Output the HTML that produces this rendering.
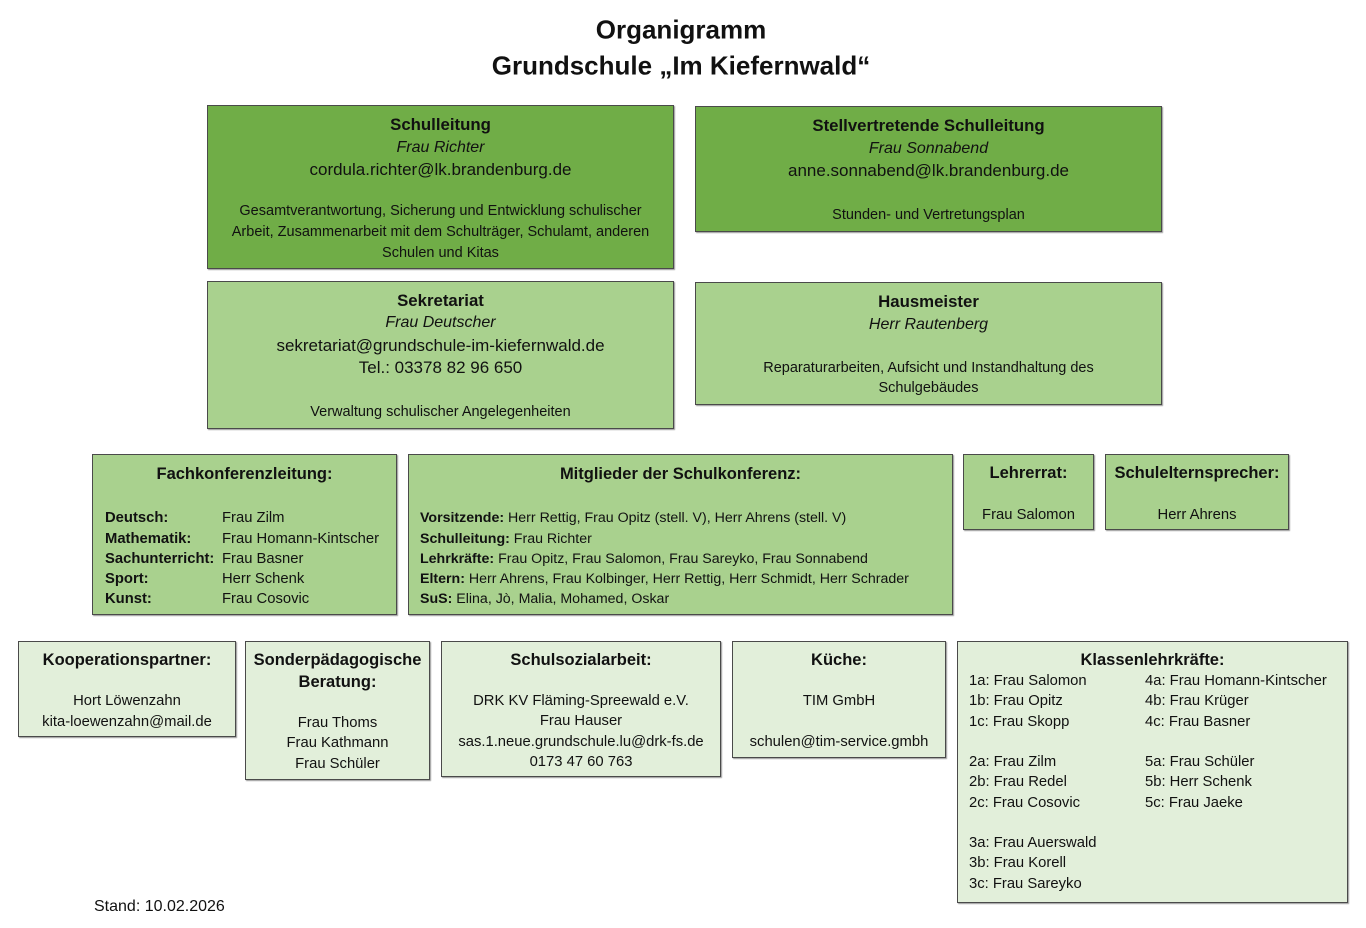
<!DOCTYPE html>
<html><head><meta charset="utf-8"><style>
body{margin:0;width:1366px;height:928px;background:#fff;position:relative;font-family:"Liberation Sans",sans-serif;color:#111;overflow:hidden}
.b{position:absolute;border:1px solid #4a4a4a;box-shadow:1px 1px 1px #999;box-sizing:border-box}
.d{background:#70ad47}.m{background:#a9d18e}.l{background:#e2efda}
.t{position:absolute;white-space:nowrap;transform:translateY(-45%);font-size:14.8px;line-height:18px}
.c{text-align:center}
.h{font-weight:bold;font-size:16.8px}
.h2{font-weight:bold;font-size:16.5px}
.i{font-style:italic;font-size:16px}
.e{font-size:17px}
.s{font-size:14.5px}
.m2{font-size:14.2px}
.tt{transform:translateY(-55%)}
</style></head><body>
<div class="t c tt" style="left:0;width:1362px;top:31px;font-size:26px;font-weight:bold;line-height:32px">Organigramm</div>
<div class="t c tt" style="left:0;width:1362px;top:67px;font-size:26px;font-weight:bold;line-height:32px">Grundschule „Im Kiefernwald“</div>

<div class="b d" style="left:207px;top:105px;width:467px;height:164px"></div>
<div class="t c h" style="left:207px;width:467px;top:124px">Schulleitung</div>
<div class="t c i" style="left:207px;width:467px;top:147px">Frau Richter</div>
<div class="t c e" style="left:207px;width:467px;top:169px">cordula.richter@lk.brandenburg.de</div>
<div class="t c s" style="left:207px;width:467px;top:210px">Gesamtverantwortung, Sicherung und Entwicklung schulischer</div>
<div class="t c s" style="left:207px;width:467px;top:231px">Arbeit, Zusammenarbeit mit dem Schulträger, Schulamt, anderen</div>
<div class="t c s" style="left:207px;width:467px;top:252px">Schulen und Kitas</div>

<div class="b d" style="left:695px;top:106px;width:467px;height:126px"></div>
<div class="t c h" style="left:695px;width:467px;top:125px">Stellvertretende Schulleitung</div>
<div class="t c i" style="left:695px;width:467px;top:148px">Frau Sonnabend</div>
<div class="t c e" style="left:695px;width:467px;top:170px">anne.sonnabend@lk.brandenburg.de</div>
<div class="t c s" style="left:695px;width:467px;top:214px">Stunden- und Vertretungsplan</div>

<div class="b m" style="left:207px;top:281px;width:467px;height:148px"></div>
<div class="t c h" style="left:207px;width:467px;top:300px">Sekretariat</div>
<div class="t c i" style="left:207px;width:467px;top:322px">Frau Deutscher</div>
<div class="t c e" style="left:207px;width:467px;top:345px">sekretariat@grundschule-im-kiefernwald.de</div>
<div class="t c e" style="left:207px;width:467px;top:367px">Tel.: 03378 82 96 650</div>
<div class="t c s" style="left:207px;width:467px;top:411px">Verwaltung schulischer Angelegenheiten</div>

<div class="b m" style="left:695px;top:282px;width:467px;height:123px"></div>
<div class="t c h" style="left:695px;width:467px;top:301px">Hausmeister</div>
<div class="t c i" style="left:695px;width:467px;top:324px">Herr Rautenberg</div>
<div class="t c s" style="left:695px;width:467px;top:367px">Reparaturarbeiten, Aufsicht und Instandhaltung des</div>
<div class="t c s" style="left:695px;width:467px;top:387px">Schulgebäudes</div>

<div class="b m" style="left:92px;top:454px;width:305px;height:161px"></div>
<div class="t c h2" style="left:92px;width:305px;top:473px">Fachkonferenzleitung:</div>
<div class="t" style="left:105px;top:517px;font-weight:bold">Deutsch:</div><div class="t" style="left:222px;top:517px">Frau Zilm</div>
<div class="t" style="left:105px;top:538px;font-weight:bold">Mathematik:</div><div class="t" style="left:222px;top:538px">Frau Homann-Kintscher</div>
<div class="t" style="left:105px;top:558px;font-weight:bold">Sachunterricht:</div><div class="t" style="left:222px;top:558px">Frau Basner</div>
<div class="t" style="left:105px;top:578px;font-weight:bold">Sport:</div><div class="t" style="left:222px;top:578px">Herr Schenk</div>
<div class="t" style="left:105px;top:598px;font-weight:bold">Kunst:</div><div class="t" style="left:222px;top:598px">Frau Cosovic</div>

<div class="b m" style="left:408px;top:454px;width:545px;height:161px"></div>
<div class="t c h2" style="left:408px;width:545px;top:473px">Mitglieder der Schulkonferenz:</div>
<div class="t m2" style="left:420px;top:517px"><b>Vorsitzende:</b> Herr Rettig, Frau Opitz (stell. V), Herr Ahrens (stell. V)</div>
<div class="t m2" style="left:420px;top:538px"><b>Schulleitung:</b> Frau Richter</div>
<div class="t m2" style="left:420px;top:558px"><b>Lehrkräfte:</b> Frau Opitz, Frau Salomon, Frau Sareyko, Frau Sonnabend</div>
<div class="t m2" style="left:420px;top:578px"><b>Eltern:</b> Herr Ahrens, Frau Kolbinger, Herr Rettig, Herr Schmidt, Herr Schrader</div>
<div class="t m2" style="left:420px;top:598px"><b>SuS:</b> Elina, Jò, Malia, Mohamed, Oskar</div>

<div class="b m" style="left:963px;top:454px;width:131px;height:76px"></div>
<div class="t c h2" style="left:963px;width:131px;top:472px">Lehrerrat:</div>
<div class="t c" style="left:963px;width:131px;top:514px">Frau Salomon</div>

<div class="b m" style="left:1105px;top:454px;width:184px;height:76px"></div>
<div class="t c h2" style="left:1105px;width:184px;top:472px">Schulelternsprecher:</div>
<div class="t c" style="left:1105px;width:184px;top:514px">Herr Ahrens</div>

<div class="b l" style="left:18px;top:641px;width:218px;height:96px"></div>
<div class="t c h2" style="left:18px;width:218px;top:659px">Kooperationspartner:</div>
<div class="t c" style="left:18px;width:218px;top:700px">Hort Löwenzahn</div>
<div class="t c" style="left:18px;width:218px;top:721px">kita-loewenzahn@mail.de</div>

<div class="b l" style="left:245px;top:641px;width:185px;height:139px"></div>
<div class="t c h2" style="left:245px;width:185px;top:659px">Sonderpädagogische</div>
<div class="t c h2" style="left:245px;width:185px;top:681px">Beratung:</div>
<div class="t c" style="left:245px;width:185px;top:722px">Frau Thoms</div>
<div class="t c" style="left:245px;width:185px;top:742px">Frau Kathmann</div>
<div class="t c" style="left:245px;width:185px;top:763px">Frau Schüler</div>

<div class="b l" style="left:441px;top:641px;width:280px;height:136px"></div>
<div class="t c h2" style="left:441px;width:280px;top:659px">Schulsozialarbeit:</div>
<div class="t c" style="left:441px;width:280px;top:700px">DRK KV Fläming-Spreewald e.V.</div>
<div class="t c" style="left:441px;width:280px;top:720px">Frau Hauser</div>
<div class="t c" style="left:441px;width:280px;top:741px">sas.1.neue.grundschule.lu@drk-fs.de</div>
<div class="t c" style="left:441px;width:280px;top:761px">0173 47 60 763</div>

<div class="b l" style="left:732px;top:641px;width:214px;height:117px"></div>
<div class="t c h2" style="left:732px;width:214px;top:659px">Küche:</div>
<div class="t c" style="left:732px;width:214px;top:700px">TIM GmbH</div>
<div class="t c" style="left:732px;width:214px;top:741px">schulen@tim-service.gmbh</div>

<div class="b l" style="left:957px;top:641px;width:391px;height:262px"></div>
<div class="t c h2" style="left:957px;width:391px;top:659px">Klassenlehrkräfte:</div>
<div class="t" style="left:969px;top:680px">1a: Frau Salomon</div><div class="t" style="left:1145px;top:680px">4a: Frau Homann-Kintscher</div>
<div class="t" style="left:969px;top:700px">1b: Frau Opitz</div><div class="t" style="left:1145px;top:700px">4b: Frau Krüger</div>
<div class="t" style="left:969px;top:721px">1c: Frau Skopp</div><div class="t" style="left:1145px;top:721px">4c: Frau Basner</div>
<div class="t" style="left:969px;top:761px">2a: Frau Zilm</div><div class="t" style="left:1145px;top:761px">5a: Frau Schüler</div>
<div class="t" style="left:969px;top:781px">2b: Frau Redel</div><div class="t" style="left:1145px;top:781px">5b: Herr Schenk</div>
<div class="t" style="left:969px;top:802px">2c: Frau Cosovic</div><div class="t" style="left:1145px;top:802px">5c: Frau Jaeke</div>
<div class="t" style="left:969px;top:842px">3a: Frau Auerswald</div>
<div class="t" style="left:969px;top:862px">3b: Frau Korell</div>
<div class="t" style="left:969px;top:883px">3c: Frau Sareyko</div>

<div class="t" style="left:94px;top:906px;font-size:16px">Stand: 10.02.2026</div>
</body></html>
